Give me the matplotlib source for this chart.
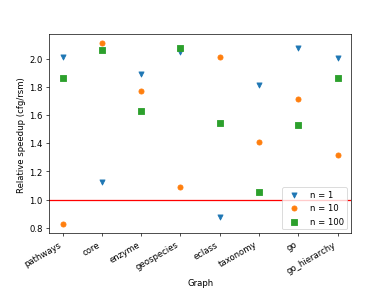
import matplotlib
matplotlib.use("Agg")
import matplotlib.pyplot as plt
import numpy as np

graphs = ["pathways", "core", "enzyme", "geospecies", "eclass", "taxonomy", "go", "go_hierarchy"]
speedup_n1 = [2.01, 1.126, 1.891, 2.047, 0.878, 1.811, 2.078, 2.002]
speedup_n10 = [0.824, 2.108, 1.771, 1.089, 2.011, 1.405, 1.714, 1.317]
speedup_n100 = [1.863, 2.059, 1.625, 2.078, 1.540, 1.053, 1.528, 1.865]

fig, ax = plt.subplots(figsize=(6.4, 4.8), dpi=61)
x = np.arange(len(graphs))

ax.scatter(x, speedup_n1, marker="v", color="tab:blue", label="n = 1")
ax.scatter(x, speedup_n10, marker="o", color="tab:orange", label="n = 10")
ax.scatter(x, speedup_n100, marker="s", color="tab:green", label="n = 100")
ax.axhline(1.0, color="red")

ax.set_xticks(x)
ax.set_xticklabels(graphs)
ax.set_xlabel("Graph")
ax.set_ylabel("Relative speedup (cfg/rsm)")
ax.legend(loc="lower right")
fig.autofmt_xdate()

fig.savefig("out.png")
